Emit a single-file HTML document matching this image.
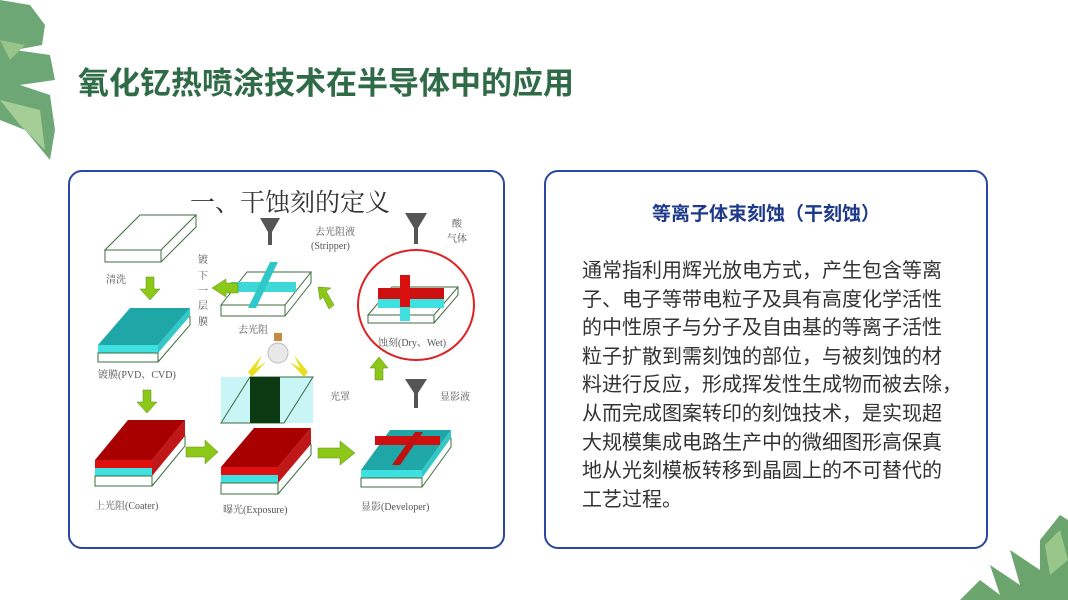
<!DOCTYPE html>
<html><head><meta charset="utf-8"><style>
html,body{margin:0;padding:0;background:#fff;}
body{width:1068px;height:600px;position:relative;overflow:hidden;font-family:"Liberation Sans","Noto Sans CJK SC",sans-serif;}
.title{position:absolute;left:78px;top:58px;font-size:31px;font-weight:bold;color:#2f6b47;white-space:nowrap;}
.panel{position:absolute;border:2px solid #2b47a0;border-radius:14px;background:#fff;box-sizing:border-box;}
.rh{position:absolute;left:545px;width:442px;top:199px;text-align:center;font-size:19px;font-weight:bold;color:#1f3a8a;}
.rt{position:absolute;left:582px;top:257px;width:400px;font-size:20px;line-height:28.6px;color:#333;white-space:nowrap;}
</style></head><body>
<svg width="1068" height="600" style="position:absolute;left:0;top:0">
  <g fill="#5f9e68" opacity="0.9">
    <path d="M0,0 L30,5 L45,25 L42,45 L15,50 L50,55 L55,80 L20,85 L50,95 L55,130 L50,160 L25,130 L0,120 Z"/>
    <path d="M0,40 L25,45 L10,60 Z" fill="#8cbf7d"/>
    <path d="M0,100 L40,110 L45,150 L20,125 Z" fill="#9cc98c"/>
  </g>
  <g fill="#5c9c5e" opacity="0.9">
    <path d="M1060,515 L1068,520 L1068,600 L960,600 L980,580 L1000,595 L990,565 L1020,585 L1010,550 L1040,570 L1040,540 Z"/>
    <path d="M1045,545 L1060,530 L1068,560 L1050,575 Z" fill="#8fc27e"/>
  </g>
</svg>
<div class="title">氧化钇热喷涂技术在半导体中的应用</div>
<div class="panel" style="left:68px;top:170px;width:437px;height:379px;"></div>
<div class="panel" style="left:544px;top:170px;width:444px;height:379px;"></div>
<div class="rh">等离子体束刻蚀（干刻蚀）</div>
<div class="rt">通常指利用辉光放电方式，产生包含等离<br>子、电子等带电粒子及具有高度化学活性<br>的中性原子与分子及自由基的等离子活性<br>粒子扩散到需刻蚀的部位，与被刻蚀的材<br>料进行反应，形成挥发性生成物而被去除，<br>从而完成图案转印的刻蚀技术，是实现超<br>大规模集成电路生产中的微细图形高保真<br>地从光刻模板转移到晶圆上的不可替代的<br>工艺过程。</div>

<svg width="1068" height="600" style="position:absolute;left:0;top:0" font-family="Liberation Serif,Noto Serif CJK SC,serif">
  <text x="190" y="211" font-size="25" fill="#333">一、干蚀刻的定义</text>
  <g fill="none" stroke="#3d6b3d" stroke-width="1">
    <polygon points="105,250 140,215 196,215 161,250"/>
    <polygon points="105,250 161,250 161,262 105,262"/>
    <polyline points="161,262 196,227 196,215"/>
  </g>
  <polygon points="98,345 130,308 190,308 158,345" fill="#1fa6a6"/>
  <rect x="98" y="345" width="60" height="8" fill="#3fe0e0"/>
  <polygon points="158,345 190,308 190,316 158,353" fill="#32c8c8"/>
  <polygon points="98,353 158,353 158,362 98,362" fill="none" stroke="#3d6b3d"/>
  <polyline points="158,362 190,325 190,316" fill="none" stroke="#3d6b3d"/>
  <polygon points="95,460 128,420 185,420 152,460" fill="#a80000"/>
  <rect x="95" y="460" width="57" height="8" fill="#e01010"/>
  <rect x="95" y="468" width="57" height="8" fill="#3fe0e0"/>
  <polygon points="152,476 185,436 185,420 152,460" fill="#c01818"/>
  <polygon points="95,476 152,476 152,486 95,486" fill="none" stroke="#3d6b3d"/>
  <polyline points="152,486 185,446 185,436" fill="none" stroke="#3d6b3d"/>
  <polygon points="221,467 254,428 311,428 278,467" fill="#a80000"/>
  <rect x="221" y="467" width="57" height="8" fill="#e01010"/>
  <rect x="221" y="475" width="57" height="8" fill="#3fe0e0"/>
  <polygon points="278,483 311,444 311,428 278,467" fill="#c01818"/>
  <polygon points="221,483 278,483 278,494 221,494" fill="none" stroke="#3d6b3d"/>
  <polyline points="278,494 311,455 311,444" fill="none" stroke="#3d6b3d"/>
  <rect x="221" y="377" width="92" height="46" fill="#c8f6f6"/>
  <polygon points="221,423 250,377 313,377 284,423" fill="none" stroke="#3d6b3d"/>
  <rect x="250" y="377" width="30" height="46" fill="#0b3a12"/>
  <circle cx="278" cy="353" r="10" fill="#e8e8e8" stroke="#bbb"/>
  <rect x="274" y="333" width="8" height="8" fill="#c88a40"/>
  <polygon points="248,372 262,355 256,368 266,362 252,377" fill="#e8e020"/>
  <polygon points="308,372 294,355 300,368 290,362 304,377" fill="#e8e020"/>
  <polygon points="361,470 390,430 451,430 422,470" fill="#1fa6a6"/>
  <rect x="361" y="470" width="61" height="8" fill="#3fe0e0"/>
  <polygon points="422,478 451,438 451,430 422,470" fill="#32c8c8"/>
  <polygon points="361,478 422,478 422,487 361,487" fill="none" stroke="#3d6b3d"/>
  <polyline points="422,487 451,447 451,438" fill="none" stroke="#3d6b3d"/>
  <rect x="375" y="436" width="65" height="9" fill="#d01010"/>
  <polygon points="392,465 415,432 423,432 400,465" fill="#c01010"/>
  <g fill="none" stroke="#3d6b3d">
    <polygon points="368,315 392,287 458,287 434,315"/>
    <polygon points="368,315 434,315 434,323 368,323"/>
    <polyline points="434,323 458,295 458,287"/>
  </g>
  <rect x="378" y="288" width="66" height="11" fill="#cc1010"/>
  <rect x="378" y="299" width="66" height="9" fill="#3fe0e0"/>
  <rect x="400" y="275" width="10" height="45" fill="#d81010"/>
  <rect x="400" y="307" width="10" height="14" fill="#3fe0e0"/>
  <ellipse cx="416" cy="305" rx="58" ry="55" fill="none" stroke="#dd2222" stroke-width="2"/>
  <g fill="none" stroke="#3d6b3d">
    <polygon points="221,305 247,272 311,272 285,305"/>
    <polygon points="221,305 285,305 285,316 221,316"/>
    <polyline points="285,316 311,283 311,272"/>
  </g>
  <rect x="231" y="282" width="65" height="10" fill="#3fd8d8"/>
  <polygon points="248,308 270,262 278,262 256,308" fill="#2ec8c8"/>
  <g fill="#555">
    <polygon points="260,218 280,218 272,232 272,245 268,245 268,232"/>
    <polygon points="405,213 427,213 418,228 418,244 414,244 414,228"/>
    <polygon points="405,379 427,379 418,393 418,408 414,408 414,393"/>
  </g>
  <g fill="#8cc818" stroke="#5a8a10" stroke-width="0.5">
    <polygon points="146,277 154,277 154,289 160,289 150,300 140,289 146,289"/>
    <polygon points="143,390 151,390 151,402 157,402 147,413 137,402 143,402"/>
    <polygon points="186,447 205,447 205,440 218,452 205,464 205,457 186,457"/>
    <polygon points="318,448 340,448 340,441 355,453 340,465 340,458 318,458"/>
    <polygon points="375,380 383,380 383,368 388,368 379,357 370,368 375,368"/>
    <polygon points="238,283 226,283 226,279 212,288 226,297 226,293 238,293"/>
    <polygon points="334,305 326,291 331,288 318,287 320,300 323,297 329,309"/>
  </g>
  <g font-size="10" fill="#555">
    <text x="106" y="283">清洗</text>
    <text x="98" y="378">镀膜(PVD、CVD)</text>
    <text x="95" y="509">上光阻(Coater)</text>
    <text x="223" y="513">曝光(Exposure)</text>
    <text x="361" y="510">显影(Developer)</text>
    <text x="330" y="400">光罩</text>
    <text x="440" y="400">显影液</text>
    <text x="378" y="346">蚀刻(Dry、Wet)</text>
    <text x="238" y="333">去光阻</text>
    <text x="315" y="235">去光阻液</text>
    <text x="311" y="249">(Stripper)</text>
    <text x="452" y="227">酸</text>
    <text x="447" y="242">气体</text>
    <text x="198" y="263">镀</text>
    <text x="198" y="279">下</text>
    <text x="198" y="294">一</text>
    <text x="198" y="309">层</text>
    <text x="198" y="325">膜</text>
  </g>
</svg>
</body></html>
